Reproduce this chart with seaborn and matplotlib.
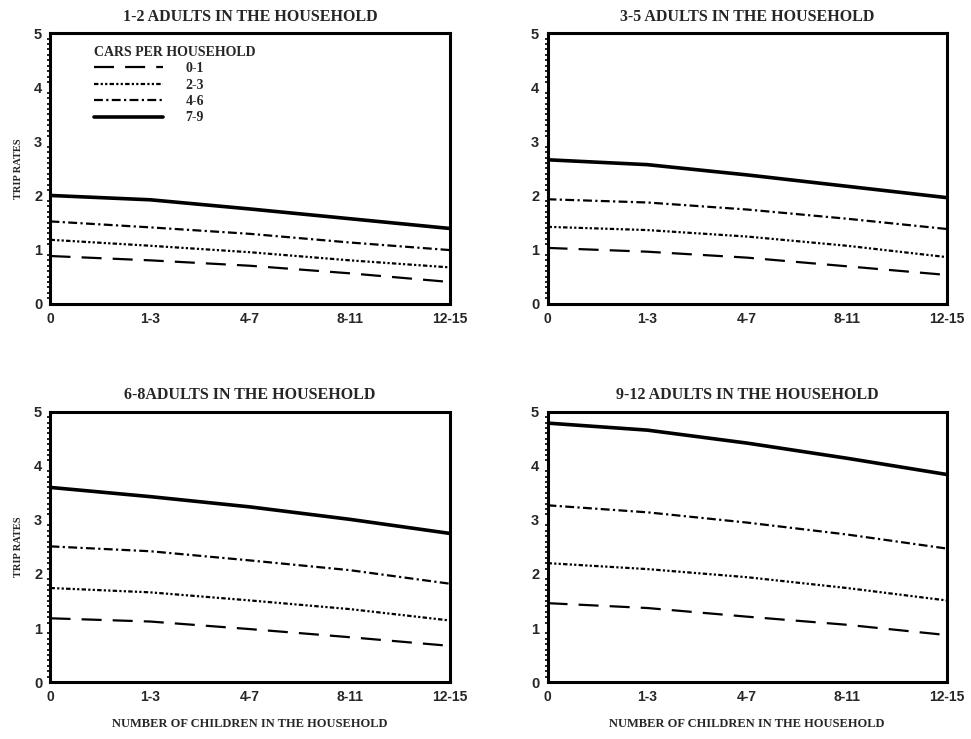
import seaborn as sns
import matplotlib.pyplot as plt
import pandas as pd
from matplotlib.ticker import MultipleLocator

# trip rates
children = ['0', '1-3', '4-7', '8-11', '12-15']
cars = ['0-1', '2-3', '4-6', '7-9']
panels = ['1-2 ADULTS IN THE HOUSEHOLD', '3-5 ADULTS IN THE HOUSEHOLD',
          '6-8ADULTS IN THE HOUSEHOLD', '9-12 ADULTS IN THE HOUSEHOLD']

adults_1_2 = {'0-1': [0.88, 0.80, 0.70, 0.56, 0.40],
              '2-3': [1.18, 1.07, 0.95, 0.80, 0.67],
              '4-6': [1.52, 1.41, 1.29, 1.13, 0.99],
              '7-9': [2.00, 1.92, 1.75, 1.57, 1.39]}
adults_3_5 = {'0-1': [1.03, 0.96, 0.85, 0.69, 0.53],
              '2-3': [1.42, 1.36, 1.24, 1.07, 0.86],
              '4-6': [1.93, 1.87, 1.74, 1.57, 1.38],
              '7-9': [2.66, 2.57, 2.38, 2.17, 1.96]}
adults_6_8 = {'0-1': [1.18, 1.12, 0.98, 0.83, 0.67],
              '2-3': [1.74, 1.66, 1.51, 1.35, 1.14],
              '4-6': [2.51, 2.42, 2.25, 2.07, 1.82],
              '7-9': [3.60, 3.43, 3.24, 3.01, 2.75]}
adults_9_12 = {'0-1': [1.46, 1.37, 1.21, 1.06, 0.87],
               '2-3': [2.20, 2.09, 1.94, 1.74, 1.51],
               '4-6': [3.27, 3.14, 2.95, 2.73, 2.47],
               '7-9': [4.79, 4.66, 4.42, 4.14, 3.84]}
panel_data = [adults_1_2, adults_3_5, adults_6_8, adults_9_12]

dash_styles = {'0-1': (9, 5), '2-3': (2, 1, 1, 1, 1, 1),
               '4-6': (4, 1.5, 1, 1.5), '7-9': ''}

sns.set_style('white')
serif = 'Liberation Serif'
sans = 'Liberation Sans'

fig, axes = plt.subplots(2, 2, figsize=(9.71, 7.39), dpi=100)
plt.subplots_adjust(left=0.052, right=0.975, top=0.955, bottom=0.077,
                    wspace=0.245, hspace=0.40)

for i, (ax, title, vals) in enumerate(zip(axes.flat, panels, panel_data)):
    rows = []
    for c in cars:
        for j, v in enumerate(vals[c]):
            rows.append({'x': j, 'rate': v, 'cars': c})
    df = pd.DataFrame(rows)
    sns.lineplot(data=df, x='x', y='rate', style='cars', style_order=cars,
                 dashes=dash_styles, color='black', linewidth=1.6, ax=ax,
                 legend=(i == 0))
    for ln in ax.lines:
        if ln.get_linestyle() == '-':
            ln.set_linewidth(2.6)

    ax.set_xlim(0, 4)
    ax.set_ylim(0, 5)
    ax.set_xticks(range(5))
    ax.set_xticklabels(children, fontfamily=sans, fontweight='bold', fontsize=10)
    ax.set_yticks(range(6))
    ax.set_yticklabels([str(v) for v in range(6)], fontfamily=sans,
                       fontweight='bold', fontsize=10.5)
    ax.yaxis.set_minor_locator(MultipleLocator(0.1))
    ax.tick_params(axis='both', which='major', direction='out', length=4,
                   width=1.5, color='black', pad=2)
    ax.tick_params(axis='y', which='minor', direction='out', length=2.5,
                   width=1.2, color='black', left=True)
    for sp in ax.spines.values():
        sp.set_color('black')
        sp.set_linewidth(2.2)
    ax.set_title(title, fontfamily=serif, fontweight='bold', fontsize=11.5, pad=9)
    ax.set_ylabel('TRIP RATES' if i % 2 == 0 else '', fontfamily=serif,
                  fontweight='bold', fontsize=7.5, labelpad=8)
    ax.set_xlabel('NUMBER OF CHILDREN IN THE HOUSEHOLD' if i >= 2 else '',
                  fontfamily=serif, fontweight='bold', fontsize=9, labelpad=10)

    if i == 0:
        leg = ax.legend(title='CARS PER HOUSEHOLD', loc='upper left',
                        bbox_to_anchor=(0.095, 0.975), frameon=False,
                        handlelength=5.0, handletextpad=1.6, labelspacing=0.25,
                        borderaxespad=0,
                        prop={'family': serif, 'weight': 'bold', 'size': 10})
        leg.get_title().set_fontfamily(serif)
        leg.get_title().set_fontweight('bold')
        leg.get_title().set_fontsize(10)
        leg._legend_box.align = 'left'

plt.savefig('out.png', dpi=100)
plt.close()
